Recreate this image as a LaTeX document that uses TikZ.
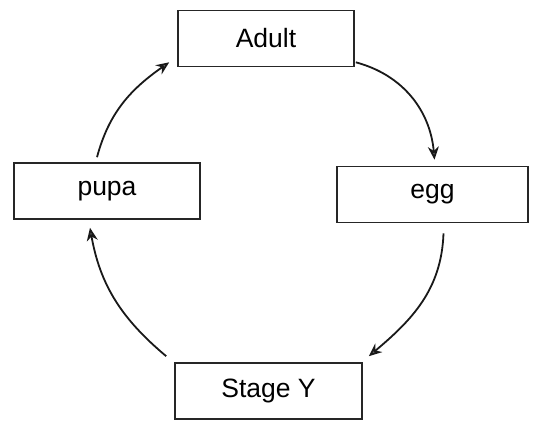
\documentclass[tikz,border=0pt]{standalone}
\usepackage{fontspec}
\setmainfont{Liberation Sans}
\usetikzlibrary{arrows.meta}
\begin{document}
\begin{tikzpicture}[x=1pt,y=-1pt,
  stagebox/.style={draw=black!85, line width=1.6pt, rectangle, inner sep=0pt,
    minimum height=56pt, font=\fontsize{26.5}{30}\selectfont},
  cyc/.style={line width=1.8pt, draw=black!90,
    -{Stealth[length=13pt,width=11pt,fill=black!55]}}
]
\useasboundingbox (0,0) rectangle (537,421);
\node[stagebox, minimum width=176pt] (adult) at (266,38.5) {Adult};
\node[stagebox, minimum width=191pt] (egg) at (432.5,194.5) {egg};
\node[stagebox, minimum width=187pt] (stagey) at (268.5,391) {Stage Y};
\node[stagebox, minimum width=186pt] (pupa) at (107,191) {pupa};
\draw[cyc] ([xshift=1pt,yshift=5pt]adult.south east) to[out=-15,in=95] ([xshift=2pt,yshift=6pt]egg.north);
\draw[cyc] ([xshift=11pt,yshift=-10pt]egg.south) to[out=-92,in=40] ([xshift=6pt,yshift=6pt]stagey.north east);
\draw[cyc] ([xshift=-8pt,yshift=6pt]stagey.north west) to[out=140,in=-80] ([xshift=-17pt,yshift=-8pt]pupa.south);
\draw[cyc] ([xshift=-10pt,yshift=5pt]pupa.north) to[out=75,in=215] ([xshift=-8pt,yshift=5pt]adult.south west);
\end{tikzpicture}
\end{document}
